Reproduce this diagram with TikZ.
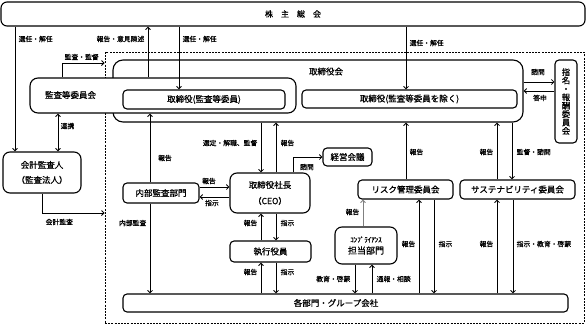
\documentclass[tikz,border=0pt]{standalone}
\usepackage{fontspec}
\setmainfont{Noto Sans CJK JP}[FakeBold=0.8]
\usetikzlibrary{arrows.meta}
\newcommand\boxfont{\fontsize{8.5}{10}\selectfont}
\newcommand\lblfont{\fontsize{6.8}{8}\selectfont}
\begin{document}
\begin{tikzpicture}[x=1pt,y=-1pt,
  box/.style={draw, line width=1.1pt, rounded corners=4pt, fill=white, inner sep=0pt, font=\boxfont, align=center},
  lbl/.style={inner sep=0.5pt, font=\lblfont},
  arr/.style={line width=0.85pt, -{Straight Barb[length=2.5pt,width=5pt]}},
  darr/.style={line width=0.85pt, {Straight Barb[length=2.5pt,width=5pt]}-{Straight Barb[length=2.5pt,width=5pt]}},
  grpbox/.style={draw, line width=0.8pt, dash pattern=on 2pt off 1.2pt, inner sep=0pt}]
\useasboundingbox (0,0) rectangle (587,324);
% dashed group
\node[grpbox, minimum width=479pt, minimum height=271pt] (grp) at (344.5,187.5) {};
% shareholders meeting
\node[box, rounded corners=6pt, minimum width=584pt, minimum height=24pt, font=\fontsize{8}{10}\selectfont] (kabu) at (293,14) {株\quad 主\quad 総\quad 会};
% board
\node[box, rounded corners=10pt, minimum width=410pt, minimum height=62pt] (torikai) at (318,91) {};
\node[inner sep=0pt, font=\boxfont] (torikailbl) at (326,71.5) {取締役会};
% audit committee
\node[box, rounded corners=8pt, minimum width=266pt, minimum height=35pt] (kansa) at (163,95.5) {};
\node[inner sep=0pt, font=\boxfont] (kansalbl) at (70.5,95) {監査等委員会};
\node[box, minimum width=162pt, minimum height=19pt] (torikansa) at (204,99.5) {取締役(監査等委員)};
\node[box, minimum width=215pt, minimum height=18pt] (torijo) at (409.5,99) {取締役(監査等委員を除く)};
\node[box, minimum width=22pt, minimum height=83pt, font=\fontsize{8.3}{8.4}\selectfont] (shimei) at (566,101.5) {指\\名\\・\\報\\酬\\委\\員\\会};
\node[box, rounded corners=7pt, minimum width=78pt, minimum height=41pt, font=\fontsize{8.5}{15}\selectfont] (kaikei) at (42,172.5) {会計監査人\\（監査法人）};
\node[box, minimum width=76pt, minimum height=20pt] (naibu) at (161,193) {内部監査部門};
\node[box, rounded corners=7pt, minimum width=80pt, minimum height=40pt, font=\fontsize{8.5}{16}\selectfont] (ceo) at (270,193) {取締役社長\\（CEO）};
\node[box, minimum width=49pt, minimum height=18pt] (keiei) at (347.5,157) {経営会議};
\node[box, minimum width=95pt, minimum height=19pt] (risk) at (405.5,189.5) {リスク管理委員会};
\node[box, minimum width=115pt, minimum height=19pt] (sus) at (517.5,189.5) {サステナビリティ委員会};
\node[box, minimum width=81pt, minimum height=21pt] (shikko) at (270.5,251.5) {執行役員};
\node[box, rounded corners=7pt, minimum width=62pt, minimum height=37pt] (comp) at (366,245.5) {{\fontsize{7}{8}\selectfont ｺﾝﾌﾟﾗｲｱﾝｽ}\\[1.5pt]{\fontsize{9}{10}\selectfont 担当部門}};
\node[box, minimum width=445pt, minimum height=18pt] (kakubu) at (345.5,303) {};
\node[inner sep=0pt, font=\boxfont] (kakubulbl) at (336,303) {各部門・グループ会社};
% connectors
\draw[arr] (kabu.south -| 15,0) -- (kaikei.north -| 15,0);
\draw[arr] (kansa.north -| 148,0) -- (kabu.south -| 148,0);
\draw[arr] (kabu.south -| 179,0) -- (torikansa.north -| 179,0);
\draw[arr] (kabu.south -| 406,0) -- (torijo.north -| 406,0);
\draw[arr] (kansa.north -| 62,0) |- (grp.west |- 0,63);
\draw[darr] (kansa.south -| 58,0) -- (kaikei.north -| 58,0);
\draw[arr] (kaikei.south) |- (grp.west |- 0,213);
\draw[arr] (naibu.north -| 150,0) -- (kansa.south -| 150,0);
\draw[arr] (naibu.south -| 150,0) -- (kakubu.north -| 150,0);
\draw[arr] (naibu.east |- 0,187) -- (ceo.west |- 0,187);
\draw[arr] (ceo.west |- 0,197) -- (naibu.east |- 0,197);
\draw[arr] (torikai.south -| 261,0) -- (ceo.north -| 261,0);
\draw[arr] (ceo.north -| 276,0) -- (torikai.south -| 276,0);
\draw[arr] (ceo.north -| 293,0) |- (keiei.west);
\draw[arr] (shikko.north -| 261,0) -- (ceo.south -| 261,0);
\draw[arr] (ceo.south -| 276,0) -- (shikko.north -| 276,0);
\draw[arr] (kakubu.north -| 261,0) -- (shikko.south -| 261,0);
\draw[arr] (shikko.south -| 276,0) -- (kakubu.north -| 276,0);
\draw[arr] (risk.north -| 406,0) -- (torikai.south -| 406,0);
\draw[arr] (sus.north -| 497,0) -- (torikai.south -| 497,0);
\draw[arr] (torikai.south -| 512,0) -- (sus.north -| 512,0);
\draw[arr] (torikai.east |- 0,82) -- (shimei.west |- 0,82);
\draw[arr] (shimei.west |- 0,91) -- (torikai.east |- 0,91);
\draw[arr, gray] (comp.north -| 363,0) -- (risk.south -| 363,0);
\draw[arr] (comp.south -| 355,0) -- (kakubu.north -| 355,0);
\draw[arr] (kakubu.north -| 372,0) -- (comp.south -| 372,0);
\draw[arr] (kakubu.north -| 419,0) -- (risk.south -| 419,0);
\draw[arr] (risk.south -| 434,0) -- (kakubu.north -| 434,0);
\draw[arr] (kakubu.north -| 497,0) -- (sus.south -| 497,0);
\draw[arr] (sus.south -| 513,0) -- (kakubu.north -| 513,0);
% labels
\node[lbl, anchor=west] (l1) at (18,39) {選任・解任};
\node[lbl, anchor=east] (l2) at (145,39) {報告・意見陳述};
\node[lbl, anchor=west] (l3) at (182,39) {選任・解任};
\node[lbl, anchor=west] (l4) at (409,43) {選任・解任};
\node[lbl, anchor=west] (l5) at (64,57) {監査・監督};
\node[lbl, anchor=west] (l6) at (60,126) {連携};
\node[lbl, anchor=west] (l7) at (45,222) {会計監査};
\node[lbl] (l8) at (165,158) {報告};
\node[lbl, anchor=east] (l9) at (147,223) {内部監査};
\node[lbl] (l10) at (209,181) {報告};
\node[lbl] (l11) at (212,203) {指示};
\node[lbl, anchor=east] (l12) at (258,143) {選定・解職、監督};
\node[lbl, anchor=west] (l13) at (280,143) {報告};
\node[lbl] (l14) at (307,167) {諮問};
\node[lbl, anchor=east] (l15) at (258,223) {報告};
\node[lbl, anchor=west] (l16) at (280,223) {指示};
\node[lbl, anchor=east] (l17) at (258,272) {報告};
\node[lbl, anchor=west] (l18) at (280,272) {指示};
\node[lbl, anchor=west] (l19) at (409,152) {報告};
\node[lbl, anchor=east] (l20) at (494,152) {報告};
\node[lbl, anchor=west] (l21) at (516,152) {監督・諮問};
\node[lbl] (l22) at (538,72) {諮問};
\node[lbl] (l23) at (540,98) {答申};
\node[lbl, anchor=east] (l24) at (360,212) {報告};
\node[lbl, anchor=east] (l25) at (351,279) {教育・啓蒙};
\node[lbl, anchor=west] (l26) at (376,279) {通報・相談};
\node[lbl, anchor=east] (l27) at (416,244) {報告};
\node[lbl, anchor=west] (l28) at (438,244) {指示};
\node[lbl, anchor=east] (l29) at (494,244) {報告};
\node[lbl, anchor=west] (l30) at (516,244) {指示・教育・啓蒙};
\end{tikzpicture}
\end{document}
